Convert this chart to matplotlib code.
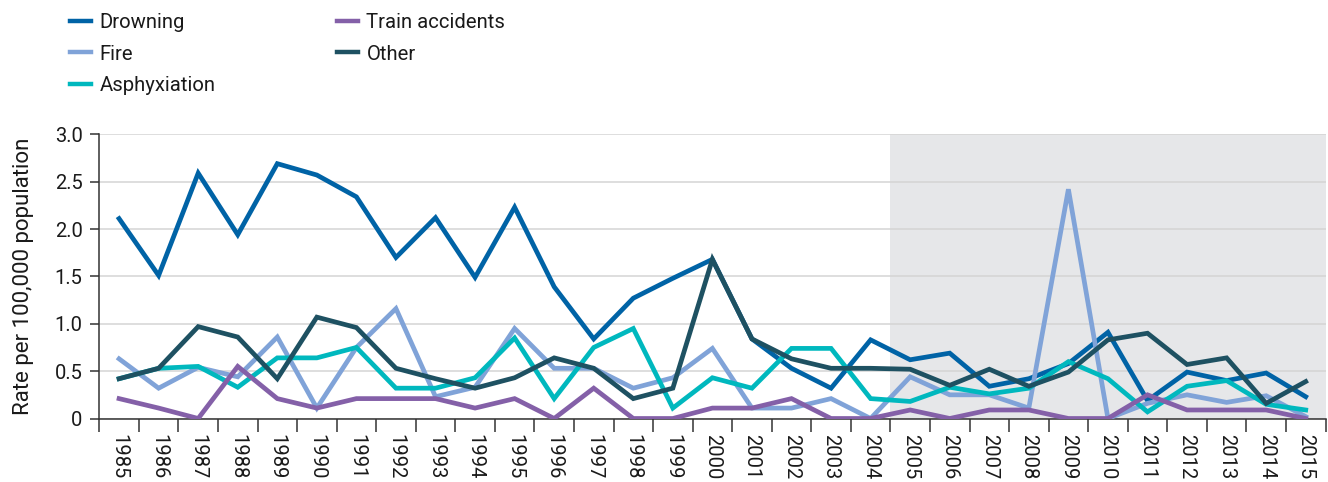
import matplotlib
matplotlib.use("Agg")
import matplotlib.pyplot as plt
from matplotlib.ticker import FixedLocator, FuncFormatter
import numpy as np

years = list(range(1985, 2016))
drowning = [2.11, 1.51, 2.59, 1.94, 2.69, 2.57, 2.34, 1.70, 2.12, 1.49, 2.23, 1.39, 0.84, 1.27, 1.48, 1.68,
            0.84, 0.53, 0.32, 0.83, 0.62, 0.69, 0.34, 0.42, 0.58, 0.91, 0.19, 0.49, 0.40, 0.48, 0.23]
fire = [0.63, 0.32, 0.54, 0.44, 0.86, 0.11, 0.75, 1.16, 0.23, 0.33, 0.95, 0.53, 0.53, 0.32, 0.43, 0.74,
        0.11, 0.11, 0.21, 0.0, 0.44, 0.25, 0.25, 0.11, 2.42, 0.0, 0.16, 0.25, 0.17, 0.24, 0.02]
asphyxiation = [0.42, 0.53, 0.55, 0.33, 0.64, 0.64, 0.75, 0.32, 0.32, 0.43, 0.85, 0.21, 0.75, 0.95, 0.11, 0.43,
                0.32, 0.74, 0.74, 0.21, 0.18, 0.33, 0.26, 0.32, 0.60, 0.42, 0.07, 0.34, 0.40, 0.15, 0.09]
train = [0.21, 0.11, 0.0, 0.55, 0.21, 0.11, 0.21, 0.21, 0.21, 0.11, 0.21, 0.0, 0.32, 0.0, 0.0, 0.11,
         0.11, 0.21, 0.0, 0.0, 0.09, 0.0, 0.09, 0.09, 0.0, 0.0, 0.25, 0.09, 0.09, 0.09, 0.0]
other = [0.42, 0.53, 0.97, 0.86, 0.42, 1.07, 0.96, 0.53, 0.42, 0.32, 0.43, 0.64, 0.53, 0.21, 0.32, 1.68,
         0.84, 0.63, 0.53, 0.53, 0.52, 0.35, 0.52, 0.34, 0.49, 0.83, 0.90, 0.57, 0.64, 0.16, 0.39]
shade_from, shade_to = 2005, 2015
y_ticks = [0, 0.5, 1.0, 1.5, 2.0, 2.5, 3.0]

c_drown = "#0063A6"
c_fire = "#80A3D8"
c_asph = "#00B8BE"
c_train = "#8460A8"
c_other = "#1E5162"

plt.rcParams['font.family'] = ['Roboto', 'DejaVu Sans']

fig = plt.figure(figsize=(13.28, 4.82), dpi=100)
ax = fig.add_axes([99.3/1328, 1-418.5/482, 1226.2/1328, 284.2/482])

x = np.arange(len(years))
lw = 3.4
l1, = ax.plot(x, drowning, color=c_drown, lw=lw, label="Drowning", zorder=3, solid_joinstyle='miter')
l2, = ax.plot(x, fire, color=c_fire, lw=lw, label="Fire", zorder=3.1, solid_joinstyle='miter')
l3, = ax.plot(x, asphyxiation, color=c_asph, lw=lw, label="Asphyxiation", zorder=3.2, solid_joinstyle='miter')
l4, = ax.plot(x, train, color=c_train, lw=lw, label="Train accidents", zorder=3.3, solid_joinstyle='miter')
l5, = ax.plot(x, other, color=c_other, lw=lw, label="Other", zorder=3.4, solid_joinstyle='miter')

i0 = years.index(shade_from)
i1 = years.index(shade_to)
ax.axvspan(i0 - 0.5, i1 + 0.5, color="#E6E7E9", zorder=0.2, lw=0)

ax.set_xlim(-0.5, len(years) - 0.5)
ax.set_ylim(0, 3.0)

ax.set_yticks(y_ticks)
ax.yaxis.set_major_formatter(FuncFormatter(lambda v, p: "0" if v == 0 else f"{v:.1f}"))
ax.yaxis.grid(True, color="#D4D4D4", lw=1.1, zorder=0.5)
ax.set_axisbelow(True)

ax.set_xticks(x)
ax.set_xticklabels([str(y) for y in years], rotation=270, va='top', ha='center')
ax.xaxis.set_minor_locator(FixedLocator(np.arange(-0.5, len(years), 1.0)))
ax.tick_params(axis='x', which='major', length=0, pad=11.5, labelsize=14.5, colors='#1a1a1a')
ax.tick_params(axis='x', which='minor', length=9.4, width=1.1, color='#333333', direction='out')
ax.tick_params(axis='y', which='major', length=6.5, width=1.1, color='#333333', pad=5.5,
               labelsize=14.5, labelcolor='#1a1a1a')

for s in ['top', 'right']:
    ax.spines[s].set_visible(False)
for s in ['left', 'bottom']:
    ax.spines[s].set_color('#333333')
    ax.spines[s].set_linewidth(1.1)

ax.set_ylabel("Rate per 100,000 population", fontsize=16, color='#1a1a1a')
ax.yaxis.set_label_coords(-0.0536, 0.5)

leg = fig.legend(handles=[l1, l2, l3, l4, l5], loc='upper left', ncol=2,
                 bbox_to_anchor=(70/1328, 1-13/482), frameon=False, fontsize=14.6,
                 handlelength=1.05, handletextpad=0.4, labelspacing=0.62, columnspacing=6.0,
                 borderpad=0, borderaxespad=0)
for h in leg.get_lines():
    h.set_linewidth(3.2)
for t in leg.get_texts():
    t.set_color('#1a1a1a')

fig.savefig("out.png", dpi=100)
